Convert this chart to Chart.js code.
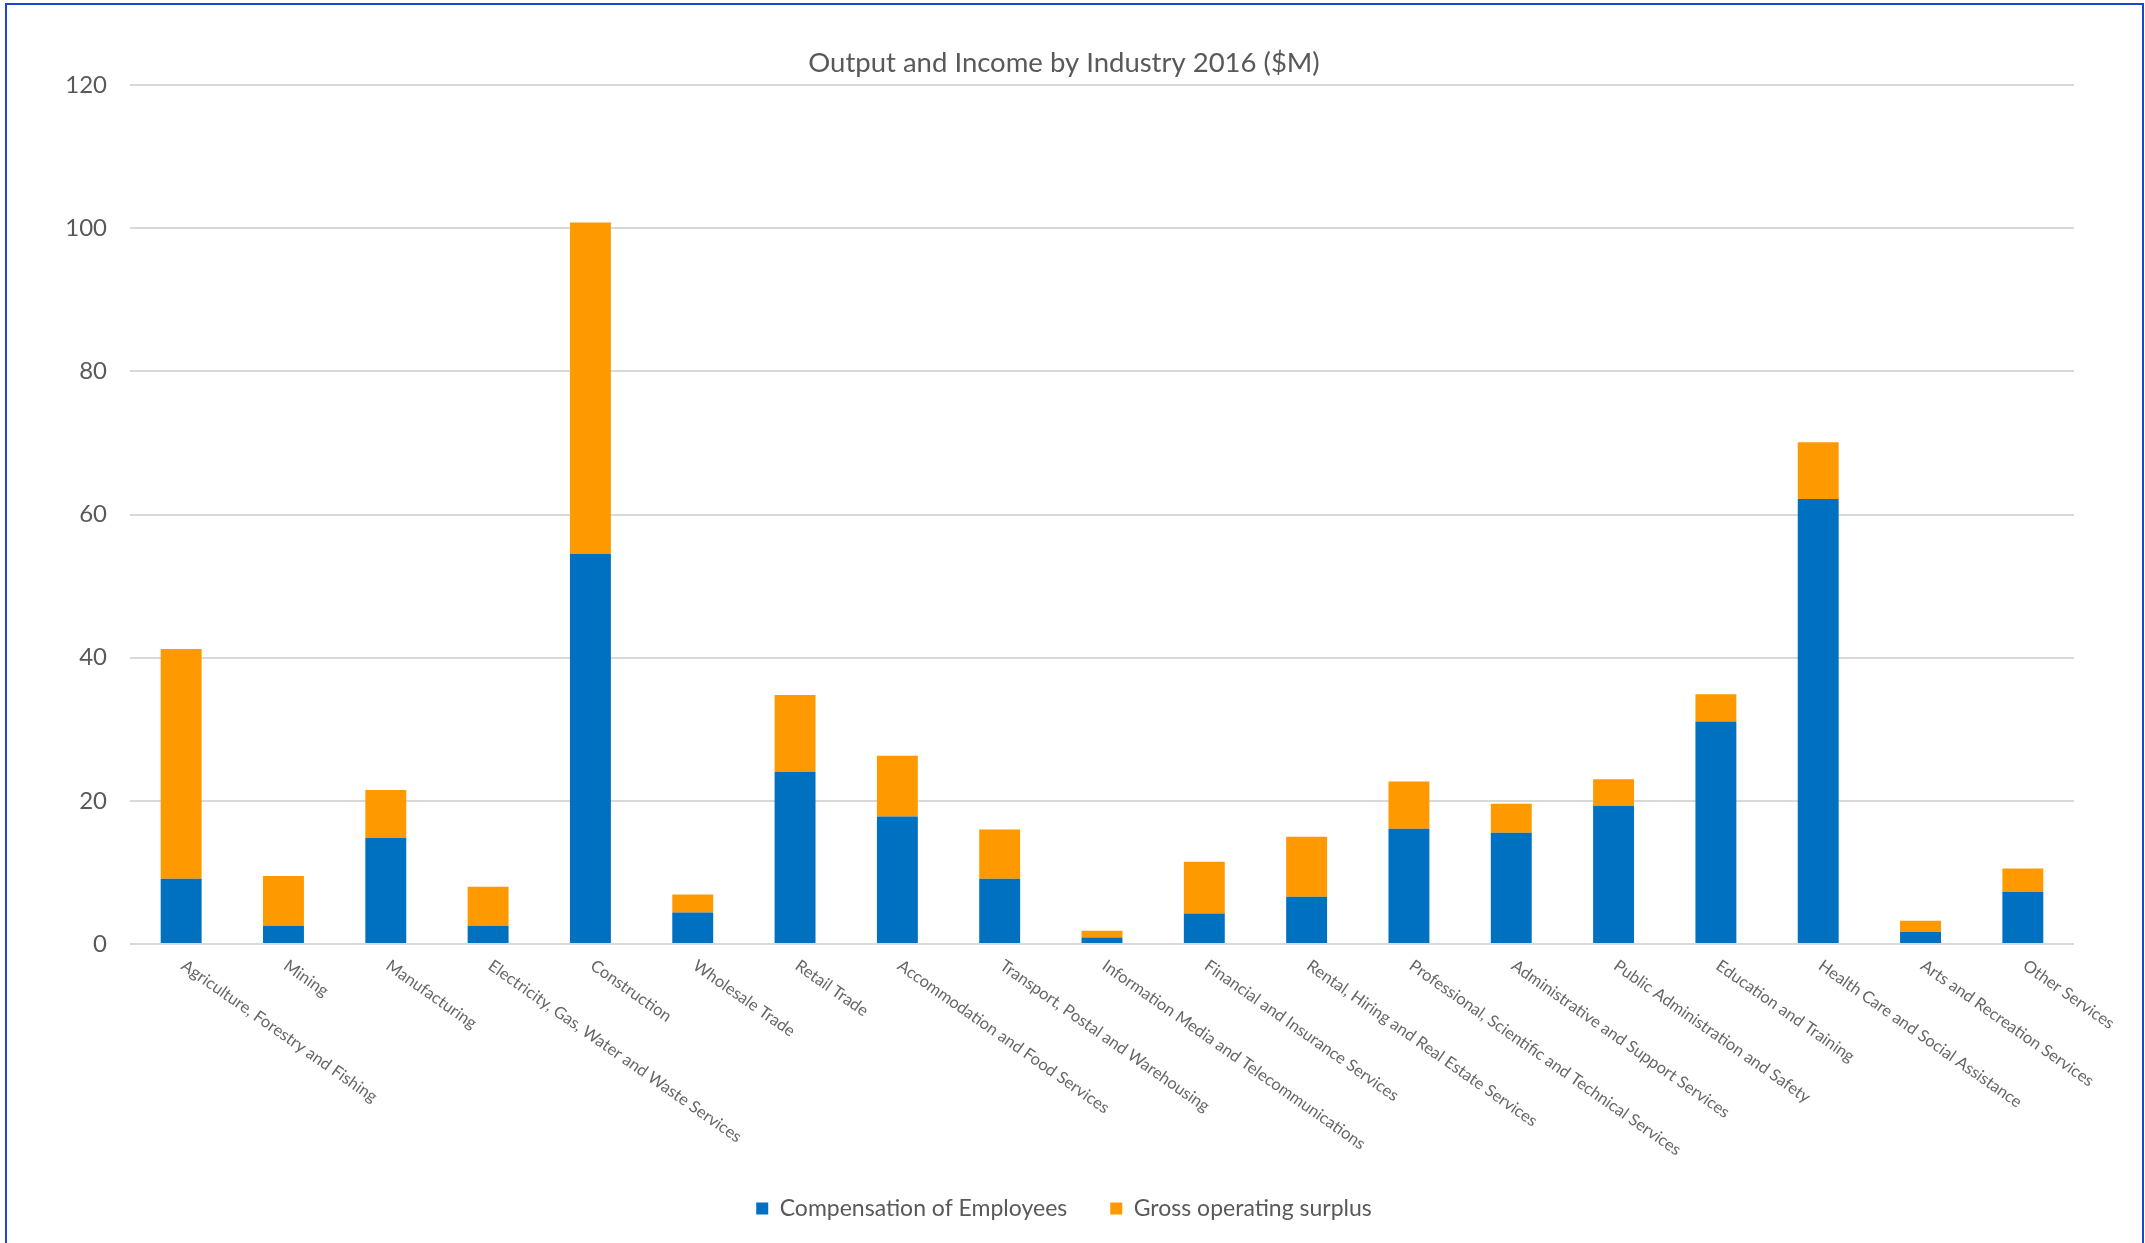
<!DOCTYPE html>
<html>
<head>
<meta charset="utf-8">
<title>Output and Income by Industry 2016</title>
<script src="https://cdn.jsdelivr.net/npm/chart.js@4.4.1/dist/chart.umd.min.js"></script>
<style>
  html, body { margin: 0; padding: 0; background: #fff; overflow: hidden; }
  #wrap { position: relative; width: 2145px; height: 1243px; }
  #frame { position: absolute; left: 5px; top: 3px; width: 2135px; height: 1300px; border: 2px solid #1e44d0; pointer-events: none; }
</style>
</head>
<body>
<div id="wrap">
  <canvas id="industryChart"></canvas>
  <div id="frame"></div>
</div>
<script>
// Chart data
const industries = [
  "Agriculture, Forestry and Fishing", "Mining", "Manufacturing",
  "Electricity, Gas, Water and Waste Services", "Construction", "Wholesale Trade",
  "Retail Trade", "Accommodation and Food Services", "Transport, Postal and Warehousing",
  "Information Media and Telecommunications", "Financial and Insurance Services",
  "Rental, Hiring and Real Estate Services", "Professional, Scientific and Technical Services",
  "Administrative and Support Services", "Public Administration and Safety",
  "Education and Training", "Health Care and Social Assistance",
  "Arts and Recreation Services", "Other Services"
];
const compensation = [9.1, 2.55, 14.8, 2.55, 54.5, 4.4, 24.05, 17.8, 9.1, 0.9, 4.25, 6.6, 16.1, 15.55, 19.3, 31.1, 62.15, 1.7, 7.3];
const grossSurplus = [32.1, 6.95, 6.7, 5.45, 46.3, 2.5, 10.75, 8.5, 6.9, 0.95, 7.25, 8.4, 6.6, 4.05, 3.7, 3.8, 7.95, 1.55, 3.25];
const yTicks = [0, 20, 40, 60, 80, 100, 120];

const FONT = "Lato, 'Open Sans', sans-serif";
const TEXT_GREY = "#595959";

// x labels run down to the right from each tick, so draw them ourselves
const slantedLabels = {
  id: "slantedLabels",
  afterDraw(chart) {
    const ctx = chart.ctx;
    const xScale = chart.scales.x;
    const base = chart.chartArea.bottom;
    ctx.save();
    ctx.font = "16.5px " + FONT;
    ctx.fillStyle = "#666666";
    ctx.textAlign = "left";
    ctx.textBaseline = "middle";
    industries.forEach((label, i) => {
      const x = xScale.getPixelForTick(i);
      ctx.save();
      ctx.translate(x + 2, base + 20);
      ctx.rotate(35 * Math.PI / 180);
      ctx.fillText(label, 0, 0);
      ctx.restore();
    });
    ctx.restore();
  }
};

function buildChart() {
  const ctx = document.getElementById("industryChart").getContext("2d");
  return new Chart(ctx, {
    type: "bar",
    data: {
      labels: industries,
      datasets: [
        { label: "Compensation of Employees", data: compensation, backgroundColor: "#0070C0" },
        { label: "Gross operating surplus", data: grossSurplus, backgroundColor: "#FF9900" }
      ]
    },
    options: {
      responsive: true,
      maintainAspectRatio: false,
      animation: false,
      layout: { padding: { left: 54, right: 71, top: 0, bottom: 13 } },
      datasets: { bar: { barPercentage: 0.4, categoryPercentage: 1.0 } },
      scales: {
        x: {
          stacked: true,
          grid: { display: false },
          border: { display: false },
          ticks: { display: false },
          afterFit(scale) { scale.height = 210; }
        },
        y: {
          stacked: true,
          min: 0,
          max: 120,
          afterBuildTicks(scale) { scale.ticks = yTicks.map(v => ({ value: v })); },
          afterFit(scale) { scale.width = 76; },
          grid: { color: "#D9D9D9", lineWidth: 2, drawTicks: false },
          border: { display: false },
          ticks: { padding: 23, color: TEXT_GREY, font: { family: FONT, size: 24 } }
        }
      },
      plugins: {
        title: {
          display: true,
          text: "Output and Income by Industry 2016 ($M)",
          color: TEXT_GREY,
          font: { family: FONT, size: 27.5, weight: "normal" },
          padding: { top: 47, bottom: 5 }
        },
        legend: {
          position: "bottom",
          labels: {
            color: TEXT_GREY,
            font: { family: FONT, size: 23 },
            boxWidth: 12,
            boxHeight: 12,
            padding: 43
          }
        },
        tooltip: { enabled: false }
      }
    },
    plugins: [slantedLabels]
  });
}

buildChart();
</script>
</body>
</html>
